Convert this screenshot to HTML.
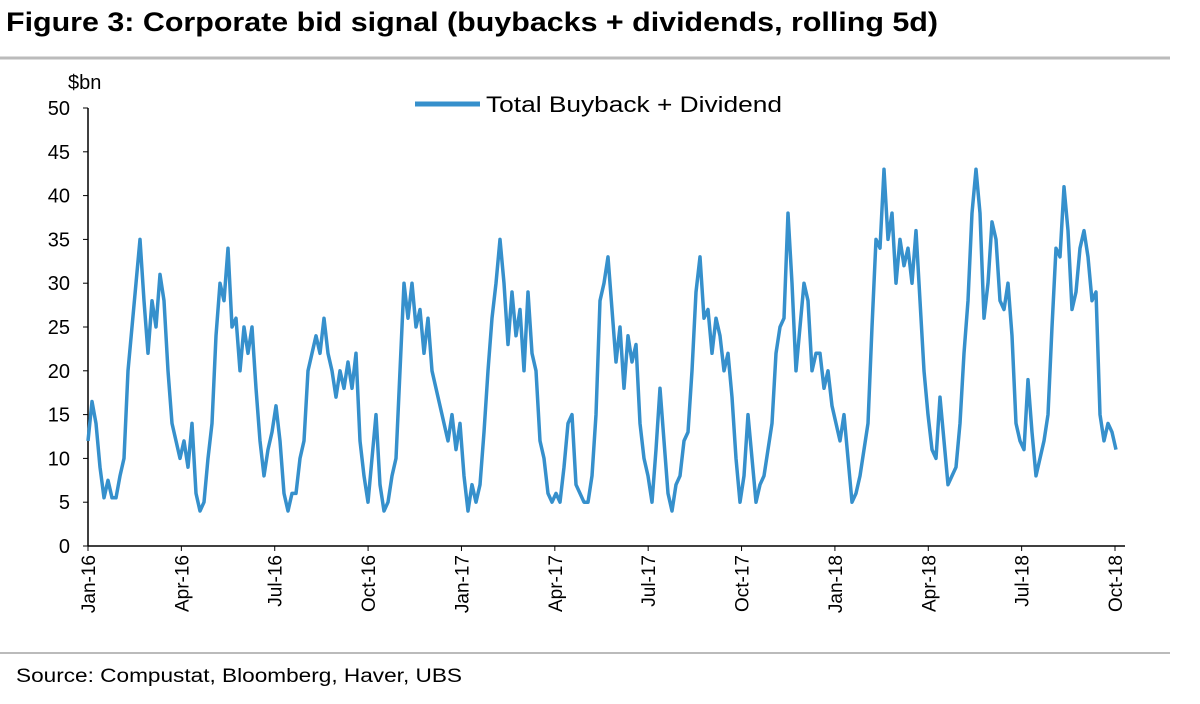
<!DOCTYPE html>
<html><head><meta charset="utf-8"><style>
body{margin:0;background:#fff;width:1200px;height:704px;overflow:hidden;font-family:"Liberation Sans",sans-serif}
</style></head><body>
<svg width="1200" height="704" style="position:absolute;left:0;top:0">
<text x="6" y="31" font-size="27" font-weight="bold" fill="#000" textLength="932" lengthAdjust="spacingAndGlyphs">Figure 3: Corporate bid signal (buybacks + dividends, rolling 5d)</text>
<line x1="0" y1="58" x2="1170" y2="58" stroke="#bbb" stroke-width="3"/>
<line x1="0" y1="653" x2="1170" y2="653" stroke="#bbb" stroke-width="2"/>
<text x="16" y="682" font-size="19" fill="#000" textLength="446" lengthAdjust="spacingAndGlyphs">Source: Compustat, Bloomberg, Haver, UBS</text>
<text x="68" y="89" font-size="20" fill="#000">$bn</text>
<line x1="415" y1="104" x2="480" y2="104" stroke="#3690cc" stroke-width="5"/>
<text x="486" y="112" font-size="22" fill="#000" textLength="296" lengthAdjust="spacingAndGlyphs">Total Buyback + Dividend</text>
<g id="axes"></g>
<g id="plot"></g>
</svg>
<script>
const yTicks=[0,5,10,15,20,25,30,35,40,45,50];
const xTickLabels=["Jan-16","Apr-16","Jul-16","Oct-16","Jan-17","Apr-17","Jul-17","Oct-17","Jan-18","Apr-18","Jul-18","Oct-18"];
const values=[12,16.5,14,9,5.5,7.5,5.5,5.5,8,10,20,25,30,35,28,22,28,25,31,28,20,14,12,10,12,9,14,6,4,5,10,14,24,30,28,34,25,26,20,25,22,25,18,12,8,11,13,16,12,6,4,6,6,10,12,20,22,24,22,26,22,20,17,20,18,21,18,22,12,8,5,10,15,7,4,5,8,10,20,30,26,30,25,27,22,26,20,18,16,14,12,15,11,14,8,4,7,5,7,13,20,26,30,35,30,23,29,24,27,20,29,22,20,12,10,6,5,6,5,9,14,15,7,6,5,5,8,15,28,30,33,27,21,25,18,24,21,23,14,10,8,5,11,18,12,6,4,7,8,12,13,20,29,33,26,27,22,26,24,20,22,17,10,5,8,15,10,5,7,8,11,14,22,25,26,38,30,20,25,30,28,20,22,22,18,20,16,14,12,15,10,5,6,8,11,14,25,35,34,43,35,38,30,35,32,34,30,36,28,20,15,11,10,17,12,7,8,9,14,22,28,38,43,38,26,30,37,35,28,27,30,24,14,12,11,19,13,8,10,12,15,25,34,33,41,36,27,29,34,36,33,28,29,15,12,14,13,11];
const NS="http://www.w3.org/2000/svg";
const X0=88,X1=1116,Y0=546,Y50=108;
const ys=v=>Y0-(v/50)*(Y0-Y50);
const xs=i=>X0+i*(X1-X0)/(values.length-1);
const qx=k=>X0+k*(1115-X0)/11;
const axes=document.getElementById('axes');
function mk(tag,attrs,parent){const e=document.createElementNS(NS,tag);for(const k in attrs)e.setAttribute(k,attrs[k]);parent.appendChild(e);return e;}
const ya=mk('line',{x1:X0,y1:Y50,x2:X0,y2:Y0,stroke:'#000','stroke-width':1.5},axes);


const xa=mk('line',{x1:X0,y1:Y0,x2:1125,y2:Y0,stroke:'#000','stroke-width':1.5},axes);


yTicks.forEach(v=>{
  mk('line',{x1:X0-5,y1:ys(v),x2:X0,y2:ys(v),stroke:'#000'},axes);
  const t=mk('text',{x:70,y:ys(v)+7,'font-size':20,'text-anchor':'end'},axes);
  t.textContent=v;
  
  
});
xTickLabels.forEach((l,k)=>{
  const x=qx(k);
  mk('line',{x1:x,y1:Y0,x2:x,y2:Y0+5,stroke:'#000'},axes);
  const t=mk('text',{x:0,y:0,'font-size':19,'text-anchor':'end',transform:`translate(${x+7},${Y0+9}) rotate(-90)`},axes);
  t.textContent=l;
  
  
});
const d=values.map((v,i)=>(i?'L':'M')+xs(i).toFixed(1)+','+ys(v).toFixed(1)).join('');
const p=mk('path',{d:d,fill:'none',stroke:'#3690cc','stroke-width':3.5,'stroke-linejoin':'round'},document.getElementById('plot'));


</script>
</body></html>
